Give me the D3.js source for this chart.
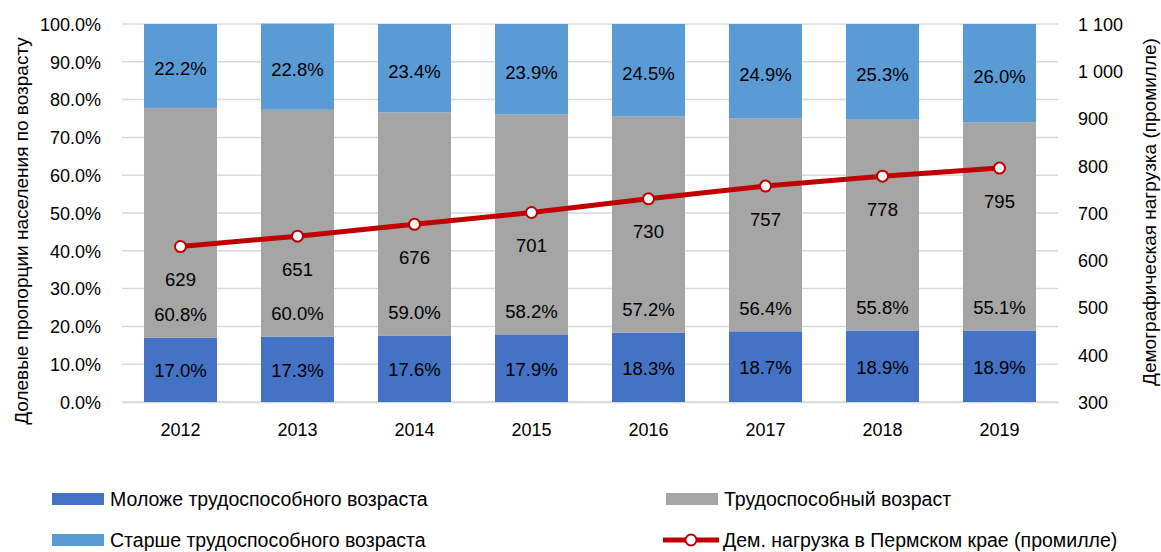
<!DOCTYPE html>
<html><head><meta charset="utf-8">
<script src="https://cdn.jsdelivr.net/npm/d3@7"></script>
<style>body{margin:0;background:#fff}svg{display:block}text{font-family:"Liberation Sans",Arial,sans-serif;fill:#000}</style>
</head><body>
<script>
const years = ["2012","2013","2014","2015","2016","2017","2018","2019"];
const younger = [17.0,17.3,17.6,17.9,18.3,18.7,18.9,18.9];
const working = [60.8,60.0,59.0,58.2,57.2,56.4,55.8,55.1];
const older = [22.2,22.8,23.4,23.9,24.5,24.9,25.3,26.0];
const burden = [629,651,676,701,730,757,778,795];
const leftTicks = [0,10,20,30,40,50,60,70,80,90,100];
const rightTicks = [300,400,500,600,700,800,900,1000,1100];
const seriesNames = ["Моложе трудоспособного возраста","Трудоспособный возраст","Старше трудоспособного возраста","Дем. нагрузка в Пермском крае (промилле)"];
const leftTitle = "Долевые пропорции населения по возрасту";
const rightTitle = "Демографическая нагрузка (промилле)";
const colors = ["#4472C4","#A5A5A5","#5B9BD5","#C00000"];

const W=1161,H=552;
const svg=d3.select("body").append("svg").attr("width",W).attr("height",H);
const m={l:122,r:1058,t:24,b:402};
const x=d3.scaleBand().domain(years).range([m.l,m.r]).paddingInner(0.376).paddingOuter(0.188);
const y=d3.scaleLinear().domain([0,100]).range([m.b,m.t]);
const y2=d3.scaleLinear().domain([300,1100]).range([m.b,m.t]);
const fsTick=18, fsLab=18.5, fsTitle=19, fsLeg=19.5;

// grid
svg.append("g").selectAll("line").data(leftTicks).join("line")
 .attr("x1",m.l).attr("x2",m.r).attr("y1",d=>y(d)).attr("y2",d=>y(d))
 .attr("stroke","#D9D9D9").attr("stroke-width",1.5);

// left axis
const la=svg.append("g").attr("transform",`translate(${m.l},0)`)
 .call(d3.axisLeft(y).tickValues(leftTicks).tickSize(0).tickPadding(21).tickFormat(d=>d.toFixed(1)+"%"));
la.select(".domain").remove();
la.selectAll("text").attr("font-size",fsTick).attr("dy","0.35em").style("font-family","Liberation Sans");
// right axis
const ra=svg.append("g").attr("transform",`translate(${m.r},0)`)
 .call(d3.axisRight(y2).tickValues(rightTicks).tickSize(0).tickPadding(20).tickFormat(d=>d3.format(",")(d).replace(","," ")));
ra.select(".domain").remove();
ra.selectAll("text").attr("font-size",fsTick).attr("dy","0.35em").style("font-family","Liberation Sans");
// x axis
const xa=svg.append("g").attr("transform",`translate(0,${m.b})`)
 .call(d3.axisBottom(x).tickSize(0).tickPadding(21));
xa.select(".domain").attr("stroke","#D9D9D9").attr("stroke-width",1.5);
xa.selectAll("text").attr("font-size",fsTick).style("font-family","Liberation Sans");

// stacked bars
const rows=years.map((yr,i)=>({year:yr,a:younger[i],b:working[i],c:older[i]}));
const stack=d3.stack().keys(["a","b","c"])(rows);
stack.forEach((s,k)=>{
  const g=svg.append("g");
  g.selectAll("rect").data(s).join("rect")
   .attr("x",d=>x(d.data.year)).attr("width",x.bandwidth())
   .attr("y",d=>y(d[1])).attr("height",d=>y(d[0])-y(d[1]))
   .attr("fill",colors[k]);
  g.selectAll("text").data(s).join("text")
   .attr("x",d=>x(d.data.year)+x.bandwidth()/2)
   .attr("y",d=>k===1? y(d[0])-23 : (y(d[0])+y(d[1]))/2+(k===2?3:1))
   .attr("dy","0.35em").attr("text-anchor","middle").attr("font-size",fsLab)
   .text(d=>(d[1]-d[0]).toFixed(1)+"%");
});

// line
const cx=d=>x(d)+x.bandwidth()/2;
svg.append("path").datum(burden)
 .attr("d",d3.line().x((d,i)=>cx(years[i])).y(d=>y2(d)))
 .attr("fill","none").attr("stroke",colors[3]).attr("stroke-width",5);
svg.append("g").selectAll("circle").data(burden).join("circle")
 .attr("cx",(d,i)=>cx(years[i])).attr("cy",d=>y2(d)).attr("r",5.5)
 .attr("fill","#fff").attr("stroke",colors[3]).attr("stroke-width",2);
svg.append("g").selectAll("text").data(burden).join("text")
 .attr("x",(d,i)=>cx(years[i])).attr("y",d=>y2(d)+33).attr("dy","0.35em")
 .attr("text-anchor","middle").attr("font-size",fsLab).text(d=>d);

// axis titles
svg.append("text").attr("transform","translate(21,231) rotate(-90)").attr("dy","0.35em")
 .attr("text-anchor","middle").attr("font-size",fsTitle).text(leftTitle);
svg.append("text").attr("transform","translate(1149,212) rotate(-90)").attr("dy","0.35em")
 .attr("text-anchor","middle").attr("font-size",fsTitle).text(rightTitle);

// legend
const leg=[{x:52,y:499,k:0},{x:666,y:499,k:1},{x:52,y:540,k:2},{x:663,y:540,k:3}];
leg.forEach(L=>{
  const g=svg.append("g");
  if(L.k<3){
    g.append("rect").attr("x",L.x).attr("y",L.y-6).attr("width",52).attr("height",12).attr("fill",colors[L.k]);
    g.append("text").attr("x",L.x+58).attr("y",L.y).attr("dy","0.35em").attr("font-size",fsLeg).text(seriesNames[L.k]);
  } else {
    g.append("line").attr("x1",L.x).attr("x2",L.x+56).attr("y1",L.y).attr("y2",L.y).attr("stroke",colors[3]).attr("stroke-width",5);
    g.append("circle").attr("cx",L.x+28).attr("cy",L.y).attr("r",5.5).attr("fill","#fff").attr("stroke",colors[3]).attr("stroke-width",2);
    g.append("text").attr("x",L.x+60).attr("y",L.y).attr("dy","0.35em").attr("font-size",fsLeg).text(seriesNames[3]);
  }
});
</script>
</body></html>
